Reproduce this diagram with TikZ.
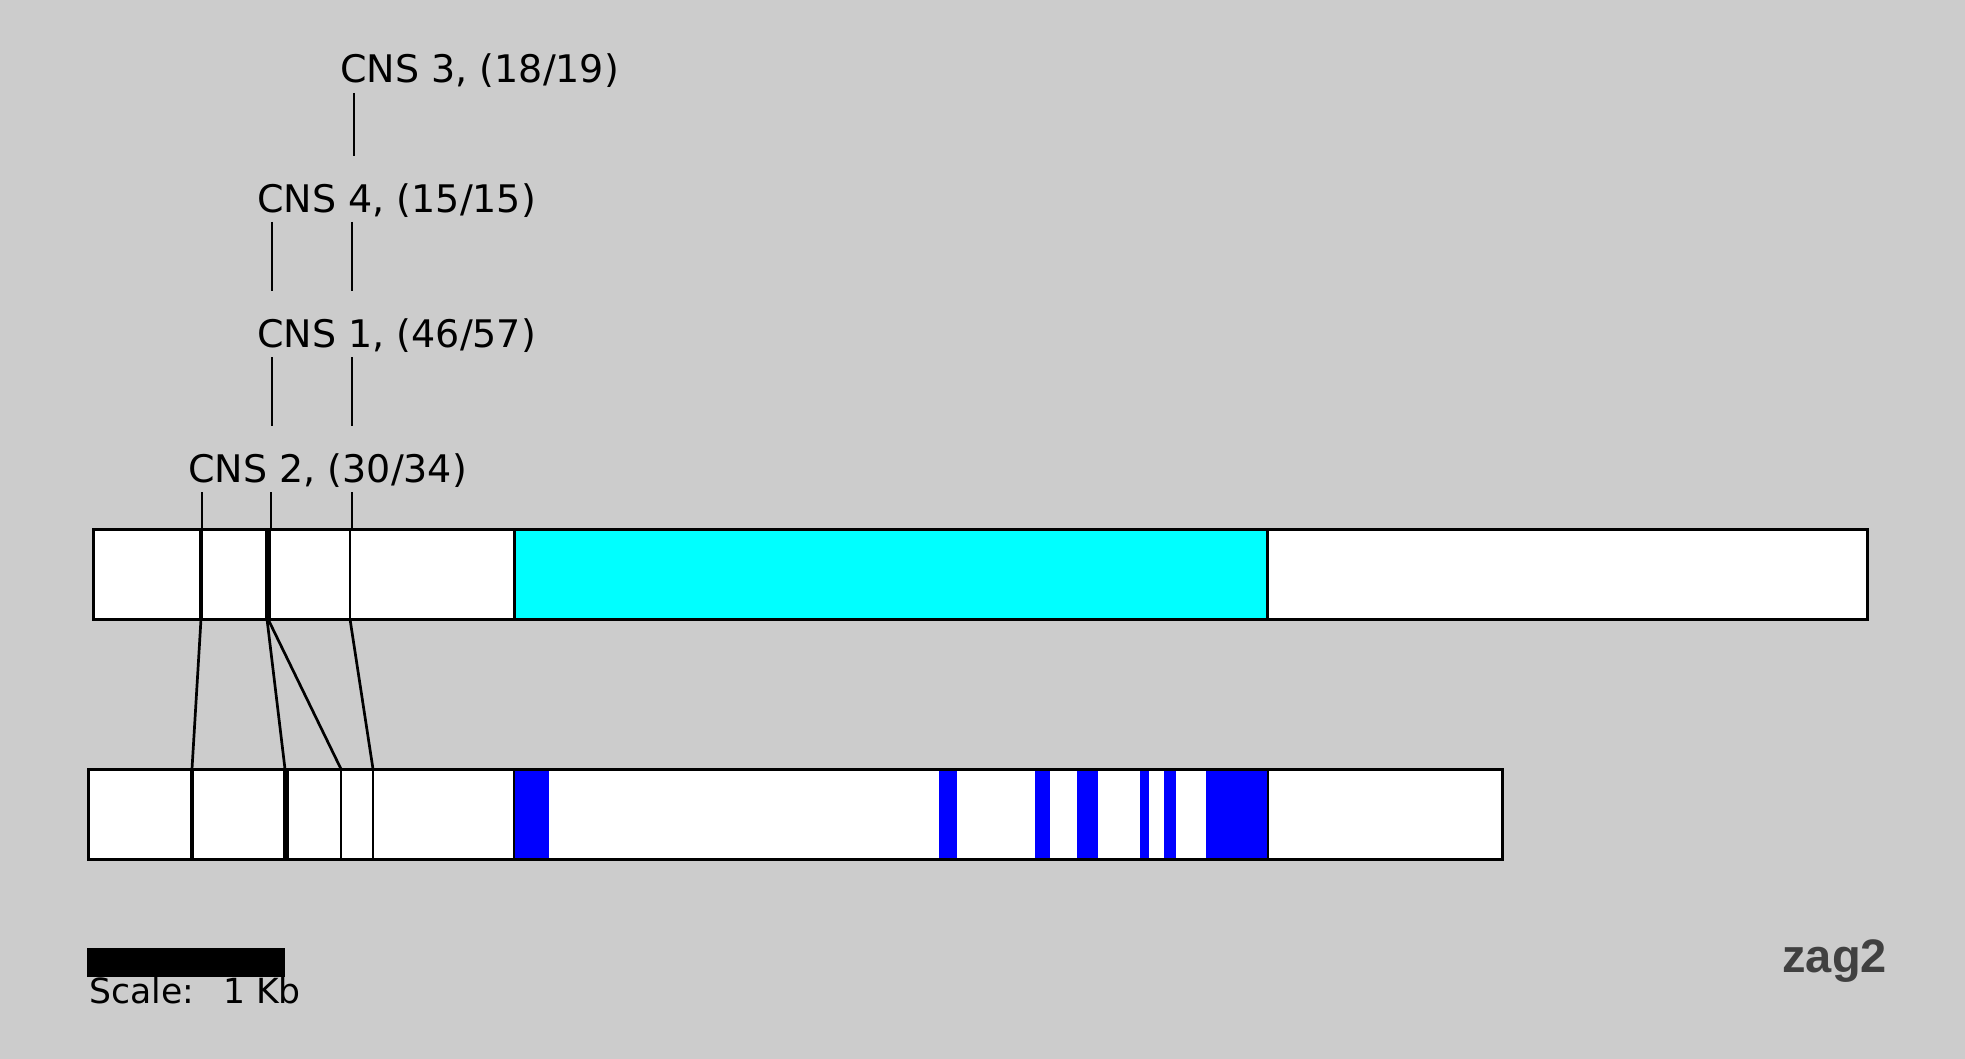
\documentclass[tikz,border=0pt]{standalone}
\usepackage{fontspec}
\setmainfont{DejaVu Sans}
\newfontfamily\zagfont{Liberation Sans}
\definecolor{bg}{RGB}{204,204,204}
\definecolor{zaggray}{RGB}{64,64,64}
\definecolor{exonblue}{RGB}{0,0,255}
\definecolor{cdscyan}{RGB}{0,255,255}
\begin{document}
\begin{tikzpicture}[x=0.5pt,y=-0.5pt,
  lbl/.style={anchor=base west, inner sep=0pt, font=\fontsize{19}{22}\selectfont},
  conn/.style={line width=1.35pt},
  barbox/.style={draw=black, line width=1.5pt, fill=white},
  barline/.style={draw=black, line width=1.5pt},
  thinmark/.style={line width=1.1pt},
  midmark/.style={line width=2pt},
  thickmark/.style={line width=3pt},
  blueband/.style={fill=exonblue}
]
\fill[bg] (0,0) rectangle (1965,1059);
\useasboundingbox (0,0) rectangle (1965,1059);

% labels
\node[lbl] (cns3) at (340,83) {CNS 3, (18/19)};
\node[lbl] (cns4) at (257,213) {CNS 4, (15/15)};
\node[lbl] (cns1) at (257,347) {CNS 1, (46/57)};
\node[lbl] (cns2) at (188,482) {CNS 2, (30/34)};

% label stems
\coordinate (s3a) at (354,93);  \coordinate (s3b) at (354,156);
\coordinate (s4a) at (272,222); \coordinate (s4b) at (272,291);
\coordinate (s4c) at (352,222); \coordinate (s4d) at (352,291);
\coordinate (s1a) at (272,357); \coordinate (s1b) at (272,426);
\coordinate (s1c) at (352,357); \coordinate (s1d) at (352,426);
\coordinate (s2a) at (202,492); \coordinate (s2b) at (202,529);
\coordinate (s2c) at (271,492); \coordinate (s2d) at (271,529);
\coordinate (s2e) at (352,492); \coordinate (s2f) at (352,529);
\draw[conn] (s3a) -- (s3b);
\draw[conn] (s4a) -- (s4b);
\draw[conn] (s4c) -- (s4d);
\draw[conn] (s1a) -- (s1b);
\draw[conn] (s1c) -- (s1d);
\draw[conn] (s2a) -- (s2b);
\draw[conn] (s2c) -- (s2d);
\draw[conn] (s2e) -- (s2f);

% top bar
\coordinate (topNW) at (93,529);
\coordinate (topSE) at (1867,619);
\filldraw[barbox] (topNW) rectangle (topSE);
\filldraw[barline, fill=cdscyan] (514,529) rectangle (1267,619);
\draw[midmark] (201,529) -- (201,619);
\draw[thickmark] (268,529) -- (268,619);
\draw[thinmark] (350,529) -- (350,619);
\draw[barline] (topNW) rectangle (topSE);

% bottom bar
\coordinate (botNW) at (88,769);
\coordinate (botSE) at (1502,859);
\filldraw[barbox] (botNW) rectangle (botSE);
\fill[blueband] (514,769) rectangle (549,859);
\fill[blueband] (939,769) rectangle (957,859);
\fill[blueband] (1035,769) rectangle (1050,859);
\fill[blueband] (1077,769) rectangle (1098,859);
\fill[blueband] (1140,769) rectangle (1149,859);
\fill[blueband] (1164,769) rectangle (1176,859);
\fill[blueband] (1206,769) rectangle (1268,859);
\draw[thinmark] (514,769) -- (514,859);
\draw[thinmark] (1268,769) -- (1268,859);
\draw[midmark] (192,769) -- (192,859);
\draw[thickmark] (286,769) -- (286,859);
\draw[thinmark] (341,769) -- (341,859);
\draw[thinmark] (373,769) -- (373,859);
\draw[barline] (botNW) rectangle (botSE);

% connectors between bars
\coordinate (t1) at (201,619); \coordinate (b1) at (192,769);
\coordinate (t2) at (267,619); \coordinate (b2) at (285,769);
\coordinate (t3) at (268,619); \coordinate (b3) at (341,769);
\coordinate (t4) at (350,619); \coordinate (b4) at (373,769);
\draw[conn] (t1) -- (b1);
\draw[conn] (t2) -- (b2);
\draw[conn] (t3) -- (b3);
\draw[conn] (t4) -- (b4);

% scale bar
\fill[black] (87,948) rectangle (285,977);
\node[anchor=base west, inner sep=0pt, font=\fontsize{17.3}{20}\selectfont] (scale) at (89,1003) {Scale:\hspace{14.5pt}1 Kb};

% name
\node[anchor=base west, inner sep=0pt, text=zaggray, font=\zagfont\bfseries\fontsize{23.5}{27}\selectfont] (zag) at (1782,972) {zag2};
\end{tikzpicture}
\end{document}
